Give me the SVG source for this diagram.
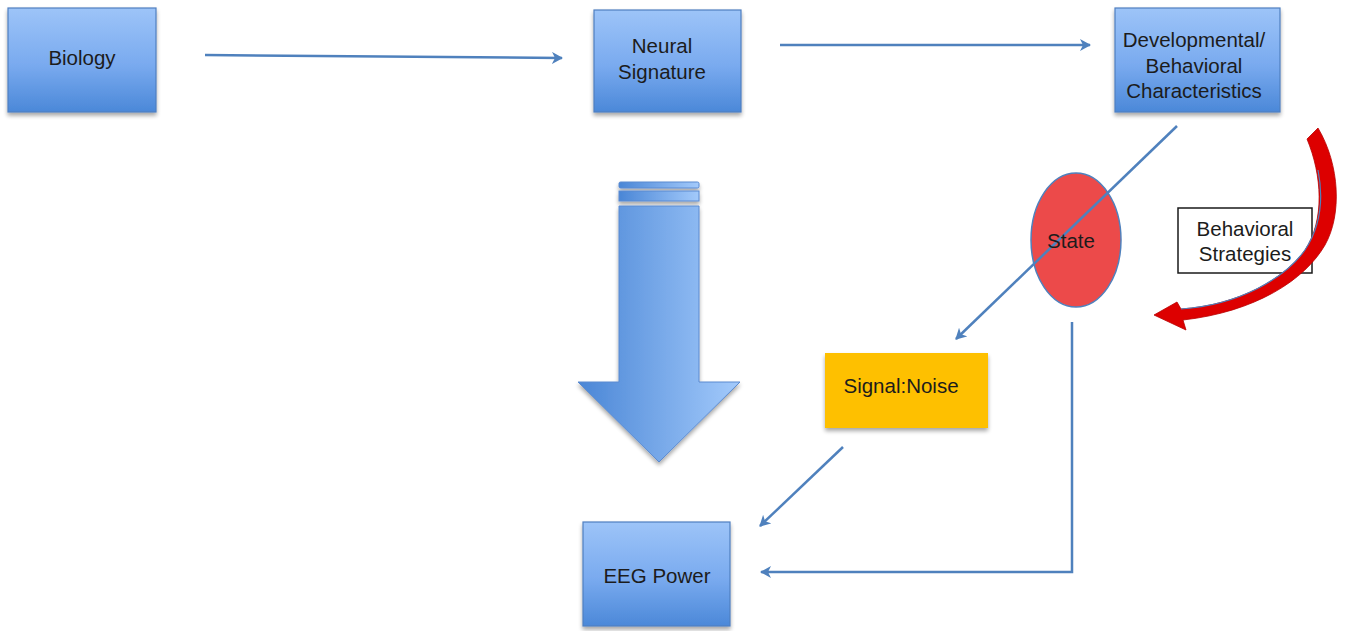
<svg xmlns="http://www.w3.org/2000/svg" width="1345" height="631" viewBox="0 0 1345 631">
<defs>
<linearGradient id="boxg" x1="0" y1="0" x2="0" y2="1">
<stop offset="0" stop-color="#9dc4f8"/>
<stop offset="0.55" stop-color="#79aaef"/>
<stop offset="1" stop-color="#4b88d8"/>
</linearGradient>
<linearGradient id="arrg" x1="0" y1="0" x2="1" y2="0">
<stop offset="0" stop-color="#4a86d6"/>
<stop offset="1" stop-color="#a3cafb"/>
</linearGradient>
<filter id="sh" x="-10%" y="-10%" width="125%" height="130%">
<feGaussianBlur in="SourceAlpha" stdDeviation="2"/>
<feOffset dx="0" dy="3"/>
<feComponentTransfer><feFuncA type="linear" slope="0.35"/></feComponentTransfer>
<feMerge><feMergeNode/><feMergeNode in="SourceGraphic"/></feMerge>
</filter>
<marker id="ah" viewBox="0 0 12 12" refX="10" refY="6" markerWidth="12" markerHeight="12" markerUnits="userSpaceOnUse" orient="auto">
<path d="M0,0 L11,6 L0,12 L3,6 Z" fill="#4f81bd"/>
</marker>
</defs>
<style>
.box{fill:url(#boxg);stroke:#4f7fc0;stroke-width:1.2;filter:url(#sh)}
.t{font-family:"Liberation Sans",Arial,sans-serif;font-size:20.5px;fill:#1c1c1c;text-anchor:middle}
.c{fill:none;stroke:#4f81bd;stroke-width:2.5}
</style>
<rect width="1345" height="631" fill="#ffffff"/>

<g id="biology">
<rect class="box" x="8" y="8" width="148" height="104"/>
<text class="t" x="82" y="65">Biology</text>
</g>
<g id="neural-signature">
<rect class="box" x="594" y="10" width="147" height="102"/>
<text class="t" x="662" y="53">Neural</text>
<text class="t" x="662" y="79">Signature</text>
</g>
<g id="developmental">
<rect class="box" x="1115" y="8" width="165" height="104"/>
<text class="t" x="1194" y="47">Developmental/</text>
<text class="t" x="1194" y="73">Behavioral</text>
<text class="t" x="1194" y="98">Characteristics</text>
</g>
<g id="eeg-power">
<rect class="box" x="583" y="522" width="147" height="104"/>
<text class="t" x="657" y="583">EEG Power</text>
</g>
<g id="signal-noise">
<rect x="825" y="353" width="163" height="75" fill="#fec000" filter="url(#sh)"/>
<text class="t" x="901" y="393">Signal:Noise</text>
</g>
<g id="big-arrow" filter="url(#sh)">
<rect x="619" y="182" width="80" height="6" rx="1.5" fill="url(#arrg)" stroke="#5a8ad0" stroke-width="1"/>
<rect x="619" y="191" width="80" height="10" fill="url(#arrg)" stroke="#5a8ad0" stroke-width="1"/>
<path d="M619,206 L699,206 L699,382 L740,382 L659,462 L578,382 L619,382 Z" fill="url(#arrg)" stroke="#5a8ad0" stroke-width="1"/>
</g>
<g id="state">
<ellipse cx="1076" cy="240" rx="45" ry="67" fill="#ec4a4a" stroke="#4f81bd" stroke-width="1.5"/>
</g>
<g id="behavioral-strategies">
<rect x="1178" y="208" width="134" height="65" fill="#ffffff" stroke="#1a1a1a" stroke-width="1.5"/>
<text class="t" x="1245" y="236">Behavioral</text>
<text class="t" x="1245" y="261">Strategies</text>
</g>
<g id="connectors">
<line class="c" x1="205" y1="55" x2="562" y2="58" marker-end="url(#ah)"/>
<line class="c" x1="780" y1="45" x2="1090" y2="45" marker-end="url(#ah)"/>
<line class="c" x1="1177" y1="126" x2="956" y2="339" marker-end="url(#ah)"/>
<line class="c" x1="843" y1="447" x2="760" y2="526" marker-end="url(#ah)"/>
<polyline class="c" points="1072,322 1072,572 761,572" marker-end="url(#ah)"/>
<path d="M1318,128 C1340,165 1342,215 1325,245 C1305,280 1255,312 1183,320 L1186,330 L1154,315 L1177,302 L1181,309 C1240,305 1285,278 1305,250 C1325,220 1322,175 1307,139 Z" fill="#dd0000" stroke="#b80000" stroke-width="0.8"/>
<path d="M1181,309 C1240,305 1285,278 1305,250 C1322,224 1323,195 1318,170" fill="none" stroke="#4f81bd" stroke-width="1.2"/>
</g>
<g id="state-label">
<text class="t" x="1071" y="248">State</text>
</g>
</svg>
